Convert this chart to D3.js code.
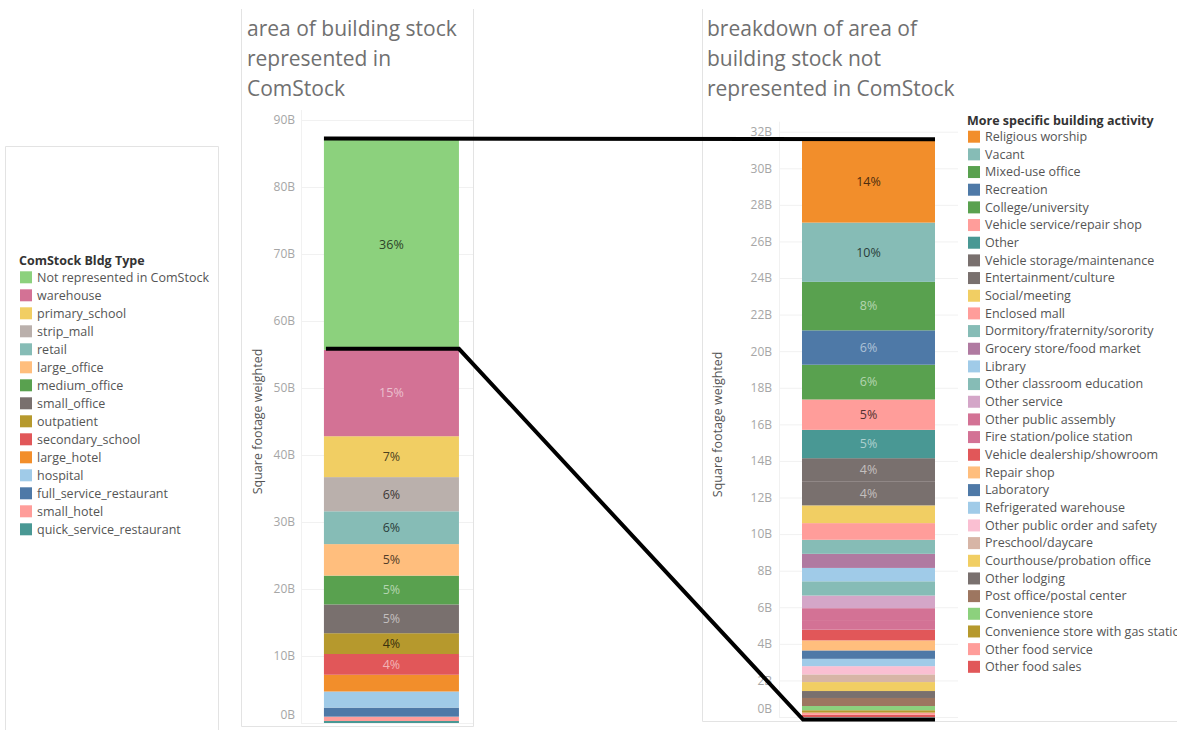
<!DOCTYPE html>
<html>
<head>
<meta charset="utf-8">
<script src="https://cdn.jsdelivr.net/npm/d3@7"></script>
<style>
  body { margin: 0; background: #fff; }
  svg { display: block; font-family: "Open Sans", Lato, sans-serif; }
</style>
</head>
<body>
<svg id="chart" width="1177" height="730"></svg>
<script>
// left bar: ComStock building types (top of stack first), values in billions of sq ft
const comstockTypes = ['Not represented in ComStock', 'warehouse', 'primary_school', 'strip_mall', 'retail',
  'large_office', 'medium_office', 'small_office', 'outpatient', 'secondary_school', 'large_hotel',
  'hospital', 'full_service_restaurant', 'small_hotel', 'quick_service_restaurant'];
const comstockValues = [31.4, 12.9, 6.1, 5.1, 4.9, 4.7, 4.3, 4.3, 3.1, 3.1, 2.5, 2.4, 1.35, 0.65, 0.3];
const comstockColors = ['#8cd17d', '#d37295', '#f1ce63', '#bab0ac', '#86bcb6', '#ffbe7d', '#59a14f', '#79706e',
  '#b6992d', '#e15759', '#f28e2b', '#a0cbe8', '#4e79a7', '#ff9d9a', '#499894'];

// right bar: breakdown of the part not represented
const activityTypes = ['Religious worship', 'Vacant', 'Mixed-use office', 'Recreation', 'College/university',
  'Vehicle service/repair shop', 'Other', 'Vehicle storage/maintenance', 'Entertainment/culture',
  'Social/meeting', 'Enclosed mall', 'Dormitory/fraternity/sorority', 'Grocery store/food market', 'Library',
  'Other classroom education', 'Other service', 'Other public assembly', 'Fire station/police station',
  'Vehicle dealership/showroom', 'Repair shop', 'Laboratory', 'Refrigerated warehouse',
  'Other public order and safety', 'Preschool/daycare', 'Courthouse/probation office', 'Other lodging',
  'Post office/postal center', 'Convenience store', 'Convenience store with gas station',
  'Other food service', 'Other food sales'];
const activityValues = [4.5, 3.24, 2.65, 1.88, 1.9, 1.66, 1.55, 1.29, 1.29, 0.97, 0.91, 0.77, 0.77, 0.73, 0.78,
  0.69, 0.65, 0.53, 0.58, 0.55, 0.46, 0.4, 0.45, 0.42, 0.49, 0.38, 0.44, 0.23, 0.13, 0.12, 0.12];
const activityColors = ['#f28e2b', '#86bcb6', '#59a14f', '#4e79a7', '#59a14f', '#ff9d9a', '#499894', '#79706e',
  '#79706e', '#f1ce63', '#ff9d9a', '#86bcb6', '#b07aa1', '#a0cbe8', '#86bcb6', '#d4a6c8', '#d37295', '#d37295',
  '#e15759', '#ffbe7d', '#4e79a7', '#a0cbe8', '#fabfd2', '#d7b5a6', '#f1ce63', '#79706e', '#9d7660', '#8cd17d',
  '#b6992d', '#ff9d9a', '#e15759'];

const leftTicks = [0, 10, 20, 30, 40, 50, 60, 70, 80, 90];
const rightTicks = [0, 2, 4, 6, 8, 10, 12, 14, 16, 18, 20, 22, 24, 26, 28, 30, 32];

const svg = d3.select('#chart');
const pct = d3.format('.0%');

// panel frames
const frame = svg.append('g').attr('fill', 'none').attr('stroke', '#e3e3e3');
frame.append('path').attr('d', 'M5.5,740V146.5H218.5V740');
frame.append('path').attr('d', 'M241.5,9V726.5H473.5V9');
frame.append('path').attr('d', 'M702.5,9V721.5H1180');

function stackRows(names, values) {
  const row = {};
  names.forEach((n, i) => { row[n] = values[i]; });
  const series = d3.stack().keys(names.slice().reverse())([row]);
  return series.map(s => ({ name: s.key, y0: s[0][0], y1: s[0][1] }));
}

function labelColor(c) {
  return d3.lab(c).l > 63 ? d3.interpolateRgb(c, '#000')(0.68) : d3.interpolateRgb(c, '#fff')(0.55);
}

function drawPanel(opts) {
  const g = svg.append('g');
  const x = d3.scaleBand().domain(['all']).range([opts.left, opts.right])
    .paddingInner(0).paddingOuter(opts.pad).align(opts.align);
  const y = d3.scaleLinear().domain(opts.domain).range([opts.bottom, opts.top]);
  const w = opts.right - opts.left;

  // grid
  const grid = g.append('g').attr('transform', `translate(${opts.left},0)`)
    .call(d3.axisLeft(y).tickValues(opts.ticks).tickSize(-w).tickFormat(''));
  grid.select('.domain').remove();
  grid.selectAll('line').attr('stroke', '#f1f1f1');
  g.append('line').attr('x1', opts.left + 0.5).attr('x2', opts.left + 0.5)
    .attr('y1', opts.top - 10).attr('y2', opts.bottom).attr('stroke', '#f1f1f1');

  // tick labels
  const ax = g.append('g').attr('transform', `translate(${opts.left},0)`)
    .call(d3.axisLeft(y).tickValues(opts.ticks).tickSize(0).tickPadding(opts.tickPad)
      .tickFormat(d => d + 'B'));
  ax.select('.domain').remove();
  ax.selectAll('text').attr('font-size', 12).attr('fill', '#a6a6a6').attr('font-family', '"Open Sans", sans-serif');
  ax.selectAll('.tick').filter(d => d === 0).select('text').attr('dy', '-0.35em');

  g.append('text')
    .attr('transform', `translate(${opts.axisTitleX},${(opts.top + opts.bottom) / 2}) rotate(-90)`)
    .attr('text-anchor', 'middle').attr('font-size', 12.5).attr('fill', '#555')
    .text('Square footage weighted');

  // stacked segments
  const segs = stackRows(opts.names, opts.values);
  const total = d3.sum(opts.values);
  g.append('g').selectAll('rect').data(segs).join('rect')
    .attr('x', x('all')).attr('width', x.bandwidth())
    .attr('y', d => y(d.y1)).attr('height', d => y(d.y0) - y(d.y1))
    .attr('fill', d => opts.colors[opts.names.indexOf(d.name)]);

  g.append('g').selectAll('text').data(segs.filter(d => y(d.y0) - y(d.y1) >= 19)).join('text')
    .attr('x', x('all') + x.bandwidth() / 2)
    .attr('y', d => (y(d.y0) + y(d.y1)) / 2).attr('dy', '0.35em')
    .attr('text-anchor', 'middle').attr('font-size', 12.5)
    .attr('fill', d => labelColor(opts.colors[opts.names.indexOf(d.name)]))
    .text(d => pct((d.y1 - d.y0) / total));

  // title
  g.append('text').attr('font-size', 21).attr('fill', '#707070')
    .selectAll('tspan').data(opts.title).join('tspan')
    .attr('x', opts.titleX).attr('y', (d, i) => 36 + i * 30).text(d => d);

  return { x, y, segs, total };
}

function drawLegend(x, yTitle, yFirst, step, title, names, colors) {
  const g = svg.append('g');
  g.append('text').attr('x', x).attr('y', yTitle).attr('dy', '0.35em')
    .attr('font-size', 12.5).attr('font-weight', 'bold').attr('fill', '#333').text(title);
  const item = g.selectAll('g.item').data(names).join('g').attr('class', 'item')
    .attr('transform', (d, i) => `translate(${x},${yFirst + i * step})`);
  item.append('rect').attr('x', 1).attr('y', -6).attr('width', 12).attr('height', 12)
    .attr('fill', (d, i) => colors[i]);
  item.append('text').attr('x', 18).attr('dy', '0.35em').attr('font-size', 12.5).attr('fill', '#555')
    .text(d => d);
}

const left = drawPanel({
  left: 301, right: 473, pad: 0.137, align: 0.62, top: 120, bottom: 723, domain: [0, 90],
  ticks: leftTicks, tickPad: 6, axisTitleX: 262, titleX: 247,
  names: comstockTypes, values: comstockValues, colors: comstockColors,
  title: ['area of building stock', 'represented in', 'ComStock']
});

const right = drawPanel({
  left: 779, right: 958, pad: 0.173, align: 0.5, top: 131.7, bottom: 717, domain: [0, 32],
  ticks: rightTicks, tickPad: 7, axisTitleX: 722, titleX: 707,
  names: activityTypes, values: activityValues, colors: activityColors,
  title: ['breakdown of area of', 'building stock not', 'represented in ComStock']
});

drawLegend(19, 261, 277.3, 18, 'ComStock Bldg Type', comstockTypes, comstockColors);
drawLegend(967, 120.7, 136.7, 17.67, 'More specific building activity', activityTypes, activityColors);

// connector lines between the two bars
const lx0 = left.x('all'), lx1 = lx0 + left.x.bandwidth();
const rx0 = right.x('all'), rx1 = rx0 + right.x.bandwidth();
const represented = left.total - comstockValues[0];
const line = d3.line();
svg.append('path')
  .attr('d', line([[lx0, left.y(left.total) - 1], [rx1, right.y(right.total) - 1]]))
  .attr('fill', 'none').attr('stroke', '#000').attr('stroke-width', 4);
svg.append('path')
  .attr('d', line([[lx0 + 2, left.y(represented) - 1], [lx1, left.y(represented) - 1],
    [rx0 + 1, right.y(0) + 2.5], [rx1, right.y(0) + 2.5]]))
  .attr('fill', 'none').attr('stroke', '#000').attr('stroke-width', 4);
</script>
</body>
</html>
